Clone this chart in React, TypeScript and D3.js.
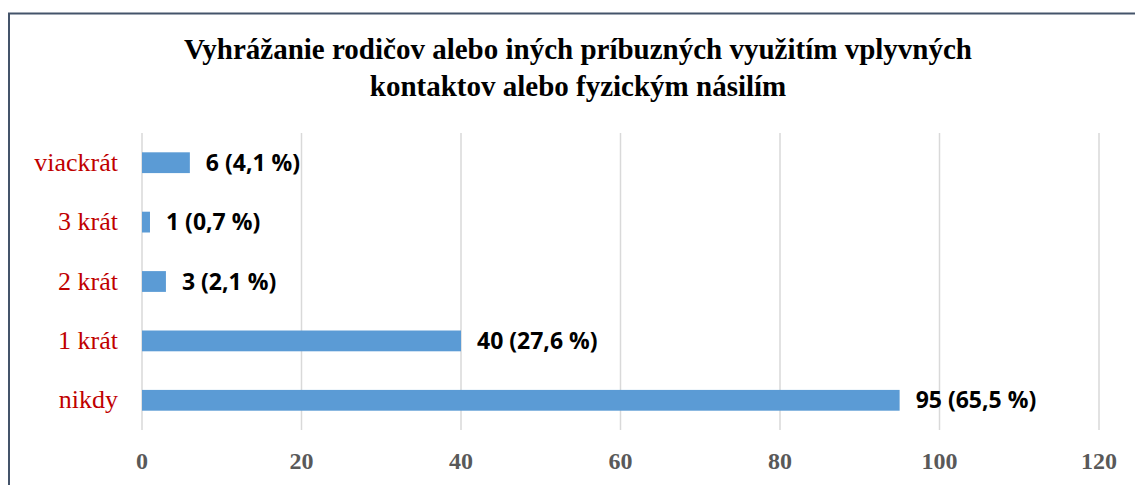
import { useEffect, useRef } from 'react';
import * as d3 from 'd3';

const categories = ['viackrát', '3 krát', '2 krát', '1 krát', 'nikdy'];
const counts = [6, 1, 3, 40, 95];
const valueLabels = ['6 (4,1 %)', '1 (0,7 %)', '3 (2,1 %)', '40 (27,6 %)', '95 (65,5 %)'];
const xTicks = [0, 20, 40, 60, 80, 100, 120];
const titleLines = [
    'Vyhrážanie rodičov alebo iných príbuzných využitím vplyvných',
    'kontaktov alebo fyzickým násilím',
];

const App = () => {
    const svgRef = useRef<SVGSVGElement>(null);

    useEffect(() => {
        const svg = d3.select(svgRef.current);
        svg.selectAll('*').remove();

        const width = 1135;
        const height = 485;
        const margin = { top: 133, right: 36, bottom: 55, left: 142 };

        // outer chart frame (runs off the right and bottom edge)
        svg.append('rect')
            .attr('x', 9)
            .attr('y', 13.5)
            .attr('width', width + 20)
            .attr('height', height + 20)
            .attr('fill', '#fff')
            .attr('stroke', '#44546A')
            .attr('stroke-width', 2);

        const x = d3
            .scaleLinear()
            .domain([0, 120])
            .range([margin.left, 1099]);

        const y = d3
            .scaleBand()
            .domain(categories)
            .range([margin.top, height - margin.bottom])
            .paddingInner(0.65)
            .paddingOuter(0.325);

        // gridlines
        svg.append('g')
            .selectAll('line')
            .data(xTicks)
            .enter()
            .append('line')
            .attr('x1', (d) => x(d))
            .attr('x2', (d) => x(d))
            .attr('y1', margin.top)
            .attr('y2', height - margin.bottom)
            .attr('stroke', '#D9D9D9')
            .attr('stroke-width', 1.5);

        // tick labels
        svg.append('g')
            .selectAll('text')
            .data(xTicks)
            .enter()
            .append('text')
            .attr('x', (d) => x(d))
            .attr('y', 469)
            .attr('text-anchor', 'middle')
            .attr('font-family', '"Liberation Serif", serif')
            .attr('font-weight', 'bold')
            .attr('font-size', '24px')
            .attr('fill', '#595959')
            .text((d) => d);

        // bars
        svg.append('g')
            .selectAll('rect')
            .data(counts)
            .enter()
            .append('rect')
            .attr('x', x(0))
            .attr('y', (d, i) => y(categories[i]))
            .attr('width', (d) => x(d) - x(0))
            .attr('height', y.bandwidth())
            .attr('fill', '#5B9BD5');

        // value labels
        svg.append('g')
            .selectAll('text')
            .data(counts)
            .enter()
            .append('text')
            .attr('x', (d) => x(d) + 16)
            .attr('y', (d, i) => y(categories[i]) + y.bandwidth() / 2 + 8)
            .attr('font-family', '"Open Sans", sans-serif')
            .attr('font-weight', 'bold')
            .attr('font-size', '23px')
            .attr('fill', '#000')
            .text((d, i) => valueLabels[i]);

        // category labels
        svg.append('g')
            .selectAll('text')
            .data(categories)
            .enter()
            .append('text')
            .attr('x', 118)
            .attr('y', (d) => y(d) + y.bandwidth() / 2 + 8)
            .attr('text-anchor', 'end')
            .attr('font-family', '"Liberation Serif", serif')
            .attr('font-size', '26px')
            .attr('fill', '#C00000')
            .text((d) => d);

        // title
        svg.append('g')
            .selectAll('text')
            .data(titleLines)
            .enter()
            .append('text')
            .attr('x', 578)
            .attr('y', (d, i) => 59 + i * 37)
            .attr('text-anchor', 'middle')
            .attr('font-family', '"Liberation Serif", serif')
            .attr('font-weight', 'bold')
            .attr('font-size', '29px')
            .attr('fill', '#000')
            .text((d) => d);
    }, []);

    return (
        <div style={{ position: 'absolute', left: 0, top: 0 }}>
            <svg ref={svgRef} width={1135} height={485} style={{ display: 'block' }}></svg>
        </div>
    );
};

export default App;
